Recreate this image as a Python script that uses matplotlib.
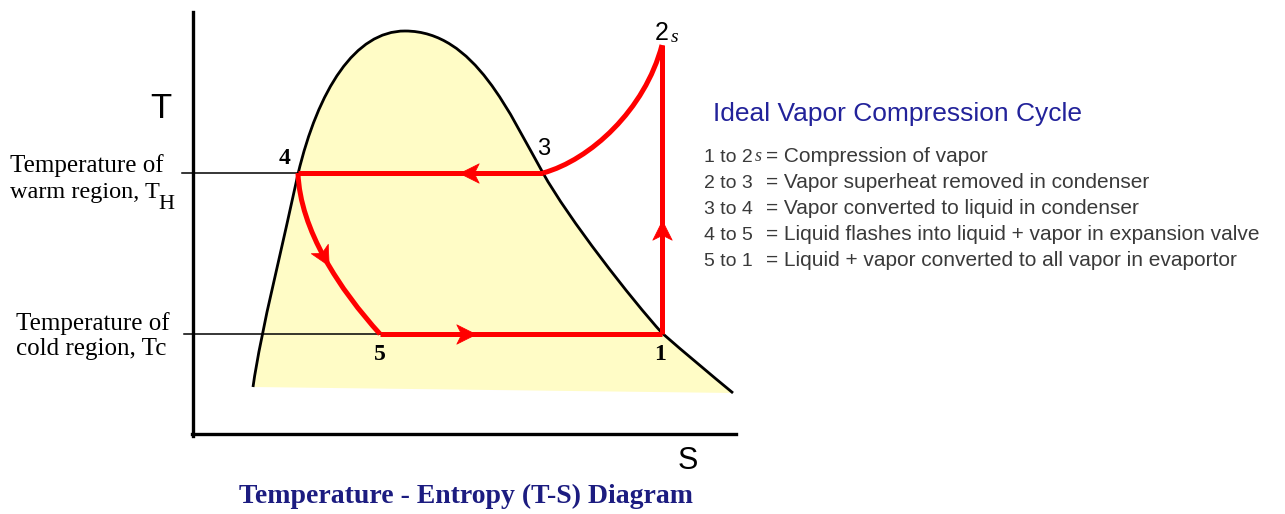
import matplotlib.pyplot as plt
from matplotlib.path import Path
from matplotlib.patches import PathPatch
from matplotlib.markers import MarkerStyle
from matplotlib.transforms import Affine2D

# --- Data (sketch coordinates in pixels: s to the right, T downward) ---
# saturation dome as a chain of cubic Bezier segments:
# start point followed by (control, control, end) triples
dome_s = [253, 261, 284, 298, 318, 355, 405, 475, 510, 543, 568, 632, 662, 686, 710, 733]
dome_t = [387, 330, 240, 174, 90, 31, 31, 31, 115, 173, 218, 300, 333, 354, 374, 393]

# state points 1, 2s, 3, 4, 5
s1, t1 = 662, 334
s2, t2 = 662, 45
s3, t3 = 543, 173
s4, t4 = 298, 173
s5, t5 = 380, 334

# curved processes (cubic Bezier: start, control, control, end)
c23_s = [662, 645, 590, 543]
c23_t = [45, 110, 160, 173]
c45_s = [298, 300, 340, 380]
c45_t = [173, 230, 290, 334]

# arrow centres (s, T, screen angle in degrees)
arrow_s = [469, 466, 662, 324]
arrow_t = [173, 334, 230, 257]
arrow_ang = [180, 0, 90, -61]

legend_keys = ['1 to 2', '2 to 3', '3 to 4', '4 to 5', '5 to 1']
legend_desc = ['= Compression of vapor',
               '= Vapor superheat removed in condenser',
               '= Vapor converted to liquid in condenser',
               '= Liquid flashes into liquid + vapor in expansion valve',
               '= Liquid + vapor converted to all vapor in evaportor']

RED = '#ff0000'
NAVY = '#1c1c80'
GREY = '#3a3a3a'
serif = 'Liberation Serif'
sans = 'Liberation Sans'


def bezier_path(xs, ys, close=False):
    verts = list(zip(xs, ys))
    codes = [Path.MOVETO] + [Path.CURVE4] * (len(verts) - 1)
    if close:
        verts.append(verts[0])
        codes.append(Path.LINETO)
    return Path(verts, codes)


fig = plt.figure(figsize=(12.85, 5.14), dpi=100)
ax = fig.add_axes([0, 0, 1, 1])
ax.set_xlim(0, 1285)
ax.set_ylim(514, 0)
ax.axis('off')

# two-phase dome fill and outline
ax.add_patch(PathPatch(bezier_path(dome_s, dome_t, close=True), fc='#fffcc6', ec='none', zorder=1))
ax.add_patch(PathPatch(bezier_path(dome_s, dome_t), fc='none', ec='black', lw=2.0, zorder=3))

# axes of the diagram
ax.plot([193, 193], [12, 436], color='black', lw=2.4, zorder=2)
ax.plot([192, 736], [434, 434], color='black', lw=2.4, zorder=2)

# reference temperature lines
ax.plot([182, s4], [t4, t4], color='black', lw=1.1, zorder=2)
ax.plot([184, s5 + 6], [t5, t5], color='black', lw=1.1, zorder=2)

# cycle
kw = dict(color=RED, lw=3.6, zorder=4, solid_capstyle='butt')
ax.plot([s1, s2], [t1, t2], **kw)
ax.plot([s3, s4], [t3, t4], **kw)
ax.plot([s5, s1], [t5, t1], **kw)
for cs, ct in [(c23_s, c23_t), (c45_s, c45_t)]:
    ax.add_patch(PathPatch(bezier_path(cs, ct), fc='none', ec=RED, lw=3.6, zorder=4))

stealth = Path([(1.0, 0.0), (-1.0, 1.0), (-0.5, 0.0), (-1.0, -1.0), (1.0, 0.0)],
               [Path.MOVETO, Path.LINETO, Path.LINETO, Path.LINETO, Path.CLOSEPOLY])
for s, t, a in zip(arrow_s, arrow_t, arrow_ang):
    m = MarkerStyle(stealth, transform=Affine2D().rotate_deg(a))
    ax.plot([s], [t], marker=m, markersize=14, color=RED, mec=RED, mew=0.5, zorder=5)

# axis letters
ax.text(161, 108, 'T', fontsize=25, family=sans, ha='center', va='center')
ax.text(688, 461, 'S', fontsize=22, family=sans, ha='center', va='center')

# temperature labels
ax.text(10, 172, 'Temperature of', fontsize=18, family=serif, va='baseline')
th = ax.text(10, 198, 'warm region, T', fontsize=17.5, family=serif, va='baseline')
ax.annotate('H', xy=(1, 0), xycoords=th, xytext=(-1, -4), textcoords='offset points',
            fontsize=16, family=serif, va='baseline', ha='left')
ax.text(16, 330, 'Temperature of', fontsize=18, family=serif, va='baseline')
ax.text(16, 355, 'cold region, Tc', fontsize=18, family=serif, va='baseline')

# state labels
ax.text(285, 159, '4', fontsize=17, family=serif, weight='bold', ha='center', va='center')
ax.text(380, 355, '5', fontsize=17, family=serif, weight='bold', ha='center', va='center')
ax.text(660, 355, '1', fontsize=17, family=serif, weight='bold', ha='center', va='center')
ax.text(544, 149, '3', fontsize=17, family=sans, ha='center', va='center')
two = ax.text(662, 40, '2', fontsize=18, family=sans, ha='center', va='baseline')
ax.annotate('s', xy=(1, 0), xycoords=two, xytext=(1, 2), textcoords='offset points',
            fontsize=14, family=serif, style='italic', va='baseline', ha='left')

# description panel
ax.text(713, 114, 'Ideal Vapor Compression Cycle', fontsize=19, family=sans,
        color='#22229a', va='center')
for i, (k, d) in enumerate(zip(legend_keys, legend_desc)):
    y = 162 + i * 26
    ax.text(704, y, k, fontsize=14, family=sans, color=GREY, va='baseline')
    ax.text(766, y, d, fontsize=15, family=sans, color=GREY, va='baseline')
# italic s of "1 to 2s"
ax.text(755, 161, 's', fontsize=13, family=serif, style='italic', color=GREY, va='baseline')

ax.text(466, 496, 'Temperature - Entropy (T-S) Diagram', fontsize=20, family=serif,
        weight='bold', color=NAVY, ha='center', va='center')

fig.savefig('out.png', dpi=100)
